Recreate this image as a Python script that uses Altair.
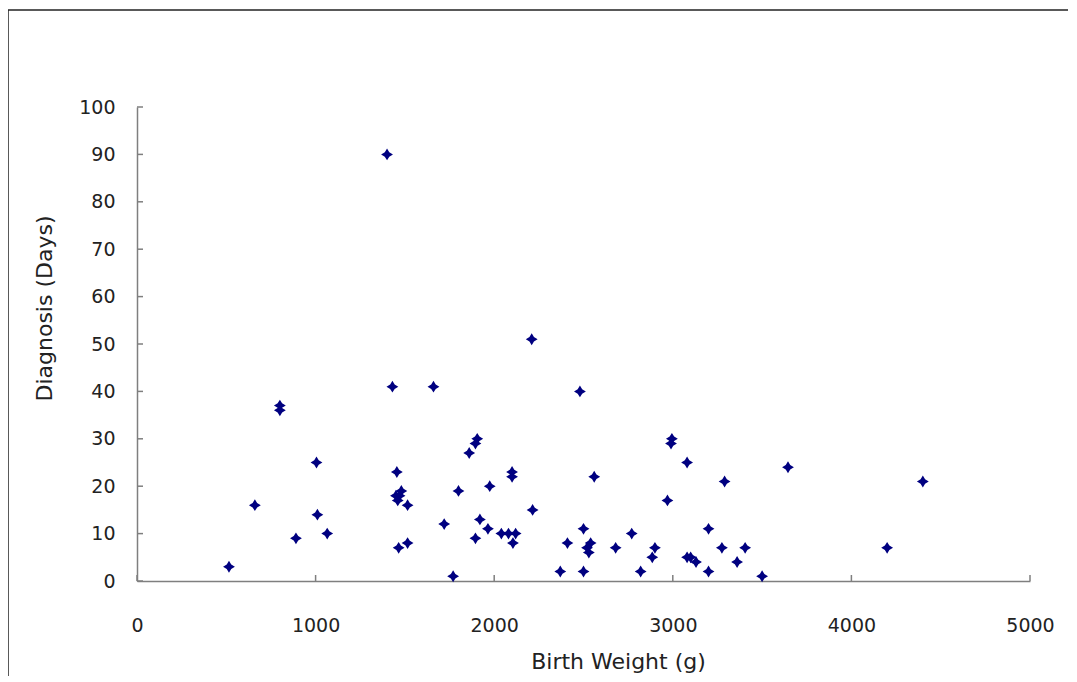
import altair as alt
import pandas as pd

# Birth weight (g) and age at diagnosis (days)
birth_weight = [
    515, 660, 800, 800, 890, 1005, 1010, 1065, 1400, 1430,
    1455, 1450, 1460, 1480, 1470, 1515, 1465, 1515, 1660, 1720,
    1770, 1800, 1860, 1905, 1895, 1895, 1920, 1975, 1965, 2040,
    2080, 2120, 2105, 2100, 2100, 2210, 2215, 2370, 2410, 2480,
    2500, 2500, 2520, 2540, 2530, 2560, 2680, 2770, 2820, 2900,
    2885, 2995, 2990, 2970, 3080, 3080, 3100, 3130, 3200, 3200,
    3290, 3275, 3360, 3405, 3500, 3645, 4200, 4400,
]
diagnosis_days = [
    3, 16, 36, 37, 9, 25, 14, 10, 90, 41,
    23, 18, 17, 19, 18, 16, 7, 8, 41, 12,
    1, 19, 27, 30, 29, 9, 13, 20, 11, 10,
    10, 10, 8, 23, 22, 51, 15, 2, 8, 40,
    11, 2, 7, 8, 6, 22, 7, 10, 2, 7,
    5, 30, 29, 17, 25, 5, 5, 4, 11, 2,
    21, 7, 4, 7, 1, 24, 7, 21,
]
x_ticks = [0, 1000, 2000, 3000, 4000, 5000]
y_ticks = [0, 10, 20, 30, 40, 50, 60, 70, 80, 90, 100]

W, H = 893, 474
PAD_L, PAD_T, PAD_R, PAD_B = 129, 99, 38, 95
FONT = "DejaVu Sans"
AXIS_GRAY = "#7f7f7f"

df = pd.DataFrame({"w": birth_weight, "d": diagnosis_days})
xs = alt.Scale(domain=[0, 5000], nice=False, zero=True)
ys = alt.Scale(domain=[0, 100], nice=False, zero=True)

x_axis = alt.Axis(
    values=x_ticks, format="d", title="Birth Weight (g)", ticks=False, grid=False,
    labelPadding=35, labelFontSize=19, labelFont=FONT, labelColor="#222222",
    domainColor=AXIS_GRAY, domainWidth=1.5,
    titleFont=FONT, titleFontSize=22, titleFontWeight="normal", titleColor="#222222",
    titleX=481, titleY=87, titleBaseline="alphabetic", titleAnchor="middle",
)
y_axis = alt.Axis(
    values=y_ticks, format="d", title="Diagnosis (Days)", ticks=False, grid=False,
    labelPadding=22, labelFontSize=19, labelFont=FONT, labelColor="#222222",
    domainColor=AXIS_GRAY, domainWidth=1.5,
    titleFont=FONT, titleFontSize=22, titleFontWeight="normal", titleColor="#222222",
    titleX=-86, titleY=201, titleAngle=-90, titleBaseline="alphabetic", titleAnchor="middle",
)

points = alt.Chart(df).mark_point(
    shape="M0,-1L0.38,-0.38L1,0L0.38,0.38L0,1L-0.38,0.38L-1,0L-0.38,-0.38Z",
    filled=True, color="#000080", size=140, opacity=1,
).encode(
    x=alt.X("w:Q", scale=xs, axis=x_axis, title="Birth Weight (g)"),
    y=alt.Y("d:Q", scale=ys, axis=y_axis, title="Diagnosis (Days)"),
)

ytick_df = pd.DataFrame({"d": y_ticks})
xtick_df = pd.DataFrame({"w": x_ticks})
yticks = alt.Chart(ytick_df).mark_rule(color=AXIS_GRAY, strokeWidth=1.5).encode(
    y=alt.Y("d:Q", scale=ys, axis=y_axis, title="Diagnosis (Days)"),
    x=alt.value(0), x2=alt.value(6),
)
xticks = alt.Chart(xtick_df).mark_rule(color=AXIS_GRAY, strokeWidth=1.5).encode(
    x=alt.X("w:Q", scale=xs, axis=x_axis, title="Birth Weight (g)"),
    y=alt.value(H), y2=alt.value(H - 6),
)

frame_df = pd.DataFrame({"k": [0]})
frame_left = alt.Chart(frame_df).mark_rule(color="#222222", strokeWidth=1.5).encode(
    x=alt.value(-PAD_L), y=alt.value(-97), y2=alt.value(H + PAD_B)
)
frame_top = alt.Chart(frame_df).mark_rule(color="#222222", strokeWidth=1.5).encode(
    y=alt.value(-97), x=alt.value(-PAD_L), x2=alt.value(W + PAD_R)
)

chart = alt.layer(points, yticks, xticks, frame_left, frame_top).properties(
    width=W, height=H,
    autosize=alt.AutoSizeParams(type="none"),
    padding={"left": PAD_L, "top": PAD_T, "right": PAD_R, "bottom": PAD_B},
    background="white",
).configure_view(stroke=None).configure_axis(labelFlush=False)

chart.save("out.html", embed_options={"renderer": "svg", "actions": False})
